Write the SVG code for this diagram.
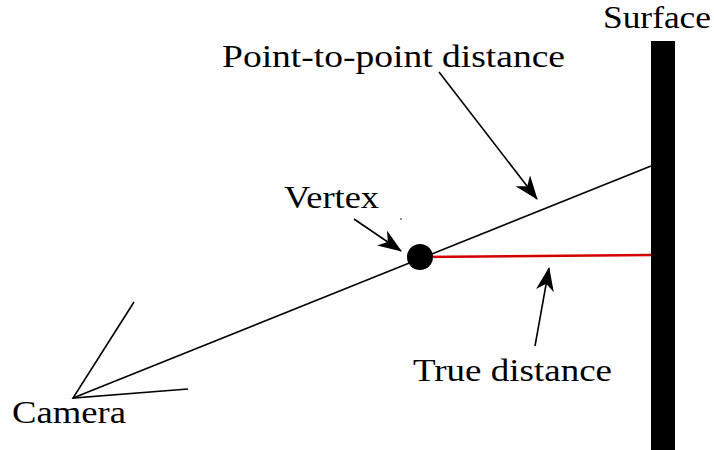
<svg xmlns="http://www.w3.org/2000/svg" width="714" height="450" viewBox="0 0 714 450">
<style>
.t{font-family:"Liberation Serif","Times New Roman",Times,serif;font-size:32px;fill:#000}
.ln{stroke:#000;stroke-width:1.6;fill:none}
.ar{stroke:#000;stroke-width:1.6;fill:none;marker-end:url(#ah)}
</style>
<defs>
<marker id="ah" viewBox="0 0 24 18" refX="23" refY="9" markerWidth="24" markerHeight="18" markerUnits="userSpaceOnUse" orient="auto">
<path d="M0,0 L24,9 L0,18 L7,9 Z" fill="#000"/>
</marker>
</defs>
<rect width="714" height="450" fill="#fff"/>
<g id="surface">
<rect x="651" y="41" width="24" height="409" fill="#000"/>
<text class="t" x="603" y="28" textLength="108" lengthAdjust="spacingAndGlyphs">Surface</text>
</g>
<g id="camera">
<path class="ln" d="M134,302 L73,398 L188,389" stroke-width="2.2"/>
<text class="t" x="12" y="423" textLength="114" lengthAdjust="spacingAndGlyphs">Camera</text>
</g>
<g id="connectors">
<line class="ln" x1="73" y1="398" x2="651" y2="166"/>
<line x1="421" y1="257" x2="651" y2="255" stroke="#d40000" stroke-width="2.6"/>
<line class="ar" x1="439" y1="72" x2="537" y2="199"/>
<line class="ar" x1="354" y1="219" x2="401" y2="251"/>
<line class="ar" x1="535" y1="346" x2="549" y2="268"/>
</g>
<g id="vertex">
<circle cx="420" cy="257" r="13" fill="#000"/>
<circle cx="401" cy="219" r="0.8" fill="#000"/>
<text class="t" x="284" y="208" textLength="95" lengthAdjust="spacingAndGlyphs">Vertex</text>
</g>
<g id="labels">
<text class="t" x="222" y="67" textLength="343" lengthAdjust="spacingAndGlyphs">Point-to-point distance</text>
<text class="t" x="413" y="381" textLength="199" lengthAdjust="spacingAndGlyphs">True distance</text>
</g>
</svg>
